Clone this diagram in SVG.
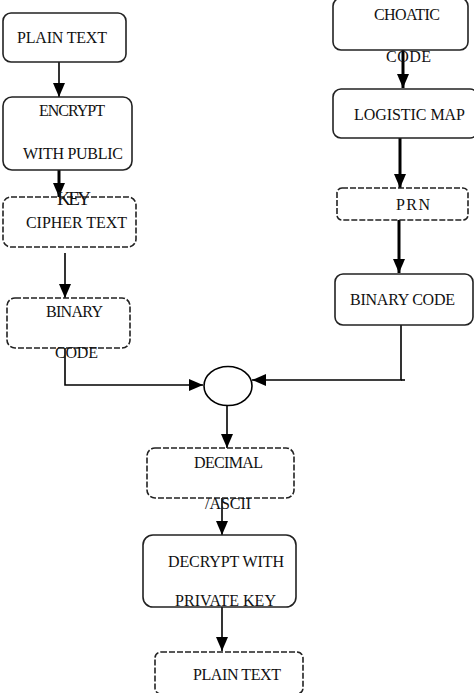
<svg xmlns="http://www.w3.org/2000/svg" width="474" height="693" viewBox="0 0 474 693">
<style>
.box{fill:#fff;stroke:#222;stroke-width:1.6}
.dash{stroke-dasharray:6 2}
.t{font-family:"Liberation Serif",serif;font-size:16px;fill:#111}
.big{font-size:19px}
.ln{stroke:#000;stroke-width:1.6;fill:none}
.thick{stroke-width:3}
</style>
<defs>
<marker id="ah" viewBox="0 0 14 12" refX="14" refY="6" markerWidth="14" markerHeight="12" markerUnits="userSpaceOnUse" orient="auto">
<path d="M0,0 L14,6 L0,12 Z" fill="#000"/>
</marker>
</defs>
<rect width="474" height="693" fill="#fff"/>
<g id="connectors">
<line class="ln" x1="59" y1="62" x2="59" y2="97" marker-end="url(#ah)"/>
<line class="ln thick" x1="59" y1="170" x2="59" y2="197" marker-end="url(#ah)"/>
<line class="ln" x1="65" y1="253" x2="65" y2="298" marker-end="url(#ah)"/>
<polyline class="ln" points="65,348 65,385 203,385" marker-end="url(#ah)"/>
<line class="ln thick" x1="403" y1="50" x2="403" y2="88" marker-end="url(#ah)"/>
<line class="ln thick" x1="400" y1="138" x2="400" y2="188" marker-end="url(#ah)"/>
<line class="ln thick" x1="399" y1="220" x2="399" y2="273" marker-end="url(#ah)"/>
<polyline class="ln" points="401,325 401,380 252,380" marker-end="url(#ah)"/>
<line class="ln" x1="401" y1="380" x2="405" y2="380"/>
<line class="ln" x1="227" y1="406" x2="227" y2="448" marker-end="url(#ah)"/>
<line class="ln" x1="222" y1="495" x2="222" y2="535" marker-end="url(#ah)"/>
<line class="ln" x1="222" y1="607" x2="222" y2="651" marker-end="url(#ah)"/>
</g>
<g id="plain1"><rect class="box" x="3" y="13" width="123" height="49" rx="8"/><text class="t" x="17" y="43" textLength="90">PLAIN TEXT</text></g>
<g id="encrypt"><rect class="box" x="3" y="97" width="129" height="73" rx="9"/>
<text class="t" x="39" y="116" textLength="66">ENCRYPT</text>
<text class="t" x="23" y="159" textLength="100">WITH PUBLIC</text>
</g>
<g id="cipher"><rect class="box dash" x="3" y="197" width="133" height="50" rx="8"/>
<text class="t" x="26" y="228" textLength="101">CIPHER TEXT</text></g>
<g id="keylabel"><text class="t big" x="57" y="205" textLength="34">KEY</text></g>
<g id="binary1"><rect class="box dash" x="7" y="298" width="123" height="50" rx="8"/>
<text class="t" x="46" y="317" textLength="57">BINARY</text>
<text class="t" x="55" y="358" textLength="43">CODE</text></g>
<g id="xor"><ellipse cx="228" cy="386" rx="24" ry="19.5" fill="#fff" stroke="#000" stroke-width="1.6"/></g>
<g id="choatic"><rect class="box" x="333" y="-2" width="135" height="52" rx="8"/>
<text class="t" x="374" y="20" textLength="66">CHOATIC</text>
<text class="t" x="386" y="62" textLength="45">CODE</text></g>
<g id="logistic"><rect class="box" x="333" y="89" width="145" height="49" rx="8"/>
<text class="t" x="354" y="120" textLength="111">LOGISTIC MAP</text></g>
<g id="prn"><rect class="box dash" x="337" y="188" width="131" height="32" rx="5"/>
<text class="t" x="396" y="210" textLength="34">PRN</text></g>
<g id="binary2"><rect class="box" x="335" y="274" width="138" height="51" rx="8"/>
<text class="t" x="350" y="305" textLength="105">BINARY CODE</text></g>
<g id="decimal"><rect class="box dash" x="147" y="448" width="147" height="50" rx="8"/>
<text class="t" x="194" y="468" textLength="69">DECIMAL</text>
<text class="t" x="205" y="509" textLength="46">/ASCII</text></g>
<g id="decrypt"><rect class="box" x="143" y="535" width="153" height="72" rx="10"/>
<text class="t" x="168" y="567" textLength="116">DECRYPT WITH</text>
<text class="t" x="175" y="606" textLength="101">PRIVATE KEY</text></g>
<g id="plain2"><rect class="box dash" x="155" y="652" width="148" height="42" rx="6"/>
<text class="t" x="193" y="680" textLength="88">PLAIN TEXT</text></g>
</svg>
